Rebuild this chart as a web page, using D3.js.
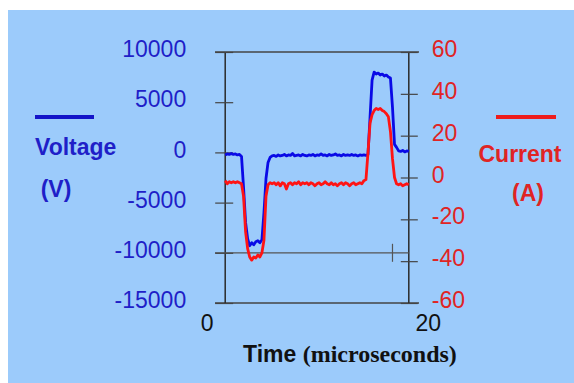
<!DOCTYPE html>
<html>
<head>
<meta charset="utf-8">
<script src="https://cdn.jsdelivr.net/npm/d3@7"></script>
<style>
  body { margin: 0; background: #fff; }
  svg { display: block; }
  .tick text { font-family: "Liberation Sans", Arial, sans-serif; font-size: 23px; }
</style>
</head>
<body>
<div id="chart"></div>
<script>
// sampled trace, time in microseconds
var time = [1.0,1.2,1.4,1.6,1.8,2.0,2.2,2.4,2.6,2.8,3.0,3.2,3.4,3.6,3.8,4.0,4.2,4.4,4.6,4.8,
  5.0,5.2,5.4,5.6,5.8,6.0,6.2,6.4,6.6,6.8,7.0,7.2,7.4,7.6,7.8,8.0,8.2,8.4,8.6,8.8,
  9.0,9.2,9.4,9.6,9.8,10.0,10.2,10.4,10.6,10.8,11.0,11.2,11.4,11.6,11.8,12.0,12.2,12.4,12.6,12.8,
  13.0,13.2,13.4,13.6,13.8,14.0,14.2,14.4,14.6,14.8,15.0,15.2,15.4,15.6,15.8,16.0,16.2,16.4,16.6,16.8,
  17.0,17.2,17.4,17.6,17.8,18.0,18.2,18.4,18.6,18.8,19.0];

var voltage = [-250,-150,-200,-100,-200,-150,-250,-200,-400,-3500,-7000,-8600,-9300,-9000,-9200,-8900,-8800,-9000,-8700,-6000,
  -2600,-1000,-500,-350,-300,-400,-250,-350,-300,-200,-350,-250,-300,-100,-350,-300,-250,-350,-200,-300,
  -350,-250,-300,-200,-350,-250,-300,-150,-300,-250,-350,-200,-300,-250,-150,-300,-250,-350,-200,-300,
  -250,-300,-200,-300,-250,-350,-250,-300,-250,-300,-200,3500,7200,8000,7800,7900,7700,7800,7600,7700,
  7500,7400,4500,800,500,150,100,200,50,150,100];

var current = [-1.5,-3,-2,-2.5,-2,-2.5,-2,-2.5,-3,-9,-26,-34,-38,-39.5,-38,-38.5,-37,-38,-36,-30,
  -9,-3.5,-2.5,-3,-2.5,-3.5,-2.5,-4,-2.5,-3,-5.5,-3,-2.5,-3.5,-2.5,-3,-2,-3.5,-2.5,-3,
  -2.5,-3.5,-2.5,-3,-4,-3,-2.5,-3.5,-3,-2,-3,-3.5,-2.5,-3.5,-3,-4,-3,-2.5,-3.5,-2.5,
  -3,-4,-3,-2.5,-3.5,-3,-2.5,-3,-1.5,-1,12,26,30,32,33,32.5,33,32,31.5,30.5,
  29,22,9,0,-3,-3.5,-3,-4,-3.5,-3,-3.5];

var voltTicks = [10000, 5000, 0, -5000, -10000, -15000];
var currTicks = [60, 40, 20, 0, -20, -40, -60];
var timeTicks = [0, 20];

var W = 574, H = 383;
var blueText = "#1f1fc8", redText = "#e02424";
var plain = function (d) { return String(d); };   // keep hyphen minus like the slide

var svg = d3.select("#chart").append("svg").attr("width", W).attr("height", H);

svg.append("rect")
  .attr("x", 8).attr("y", 10)
  .attr("width", W - 8).attr("height", H - 10)
  .attr("fill", "#9ccbfb");

var x = d3.scaleLinear().domain([0, 20]).range([215, 419]);
var yV = d3.scaleLinear().domain([-15000, 10000]).range([303, 52]);
var yA = d3.scaleLinear().domain([-60, 60]).range([303, 52]);

var frame = "#2a2a2a";

// frame lines, horizontal ones run past the box
[10000, -15000].forEach(function (v) {
  svg.append("line")
    .attr("x1", x(0)).attr("x2", x(20))
    .attr("y1", yV(v)).attr("y2", yV(v))
    .attr("stroke", "#444").attr("stroke-width", 1.5);
});
[1, 19].forEach(function (t) {
  svg.append("line")
    .attr("x1", x(t)).attr("x2", x(t))
    .attr("y1", yV(10000)).attr("y2", yV(-15000))
    .attr("stroke", frame).attr("stroke-width", 1.5);
});

// -10000 reference line
svg.append("line")
  .attr("x1", x(0)).attr("x2", x(19))
  .attr("y1", yV(-10000)).attr("y2", yV(-10000))
  .attr("stroke", "#555").attr("stroke-width", 1.2);
svg.append("line")
  .attr("x1", x(17.4)).attr("x2", x(17.4))
  .attr("y1", yV(-10000) - 9).attr("y2", yV(-10000) + 9)
  .attr("stroke", "#555").attr("stroke-width", 1.2);

// left axis (voltage)
var gL = svg.append("g")
  .attr("transform", "translate(" + (x(1) + 8) + ",0)")
  .call(d3.axisLeft(yV).tickValues(voltTicks).tickSize(18).tickPadding(29).tickFormat(plain));
gL.select(".domain").remove();
gL.selectAll(".tick line").attr("stroke", "#444").attr("stroke-width", 1.2);
gL.selectAll(".tick text").attr("fill", blueText).attr("dy", "0.2em");

// right axis (current)
var gR = svg.append("g")
  .attr("transform", "translate(" + (x(19) - 8) + ",0)")
  .call(d3.axisRight(yA).tickValues(currTicks).tickSize(17).tickPadding(14).tickFormat(plain));
gR.select(".domain").remove();
gR.selectAll(".tick line").attr("stroke", "#444").attr("stroke-width", 1.2);
gR.selectAll(".tick text").attr("fill", redText).attr("dy", "0.2em");

// bottom axis labels
var gB = svg.append("g")
  .attr("transform", "translate(0," + yV(-15000) + ")")
  .call(d3.axisBottom(x).tickValues(timeTicks).tickSize(0).tickPadding(12).tickFormat(plain));
gB.select(".domain").remove();
gB.selectAll(".tick text")
  .attr("fill", "#111")
  .attr("text-anchor", function (d) { return d === 0 ? "end" : "start"; })
  .attr("dx", function (d) { return d === 0 ? -2 : -4; });

// traces
var pts = time.map(function (t, i) { return { t: t, v: voltage[i], a: current[i] }; });

svg.append("path")
  .datum(pts)
  .attr("fill", "none")
  .attr("stroke", "#0a0ae6")
  .attr("stroke-width", 2.8)
  .attr("stroke-linejoin", "round")
  .attr("d", d3.line().x(function (d) { return x(d.t); }).y(function (d) { return yV(d.v); }));

svg.append("path")
  .datum(pts)
  .attr("fill", "none")
  .attr("stroke", "#ff1414")
  .attr("stroke-width", 2.8)
  .attr("stroke-linejoin", "round")
  .attr("d", d3.line().x(function (d) { return x(d.t); }).y(function (d) { return yA(d.a); }));

// legends
var sans = "'Liberation Sans', Arial, sans-serif";
svg.append("line").attr("x1", 35).attr("x2", 94).attr("y1", 117).attr("y2", 117)
  .attr("stroke", "#1414c8").attr("stroke-width", 4);
svg.append("text").attr("x", 35).attr("y", 155)
  .attr("font-family", sans).attr("font-weight", "bold").attr("font-size", 23)
  .attr("fill", blueText).text("Voltage");
svg.append("text").attr("x", 56).attr("y", 197).attr("text-anchor", "middle")
  .attr("font-family", sans).attr("font-weight", "bold").attr("font-size", 23)
  .attr("fill", blueText).text("(V)");

svg.append("line").attr("x1", 496).attr("x2", 556).attr("y1", 117).attr("y2", 117)
  .attr("stroke", "#ee1c1c").attr("stroke-width", 4);
svg.append("text").attr("x", 520).attr("y", 162).attr("text-anchor", "middle")
  .attr("font-family", sans).attr("font-weight", "bold").attr("font-size", 23)
  .attr("fill", redText).text("Current");
svg.append("text").attr("x", 528).attr("y", 201).attr("text-anchor", "middle")
  .attr("font-family", sans).attr("font-weight", "bold").attr("font-size", 23)
  .attr("fill", redText).text("(A)");

// x title
var xt = svg.append("text").attr("x", 243).attr("y", 362)
  .attr("font-weight", "bold").attr("font-size", 23).attr("fill", "#111");
xt.append("tspan").attr("font-family", sans).text("Time ");
xt.append("tspan").attr("font-family", "'Liberation Serif', 'Times New Roman', serif")
  .attr("font-size", 24).text("(microseconds)");
</script>
</body>
</html>
